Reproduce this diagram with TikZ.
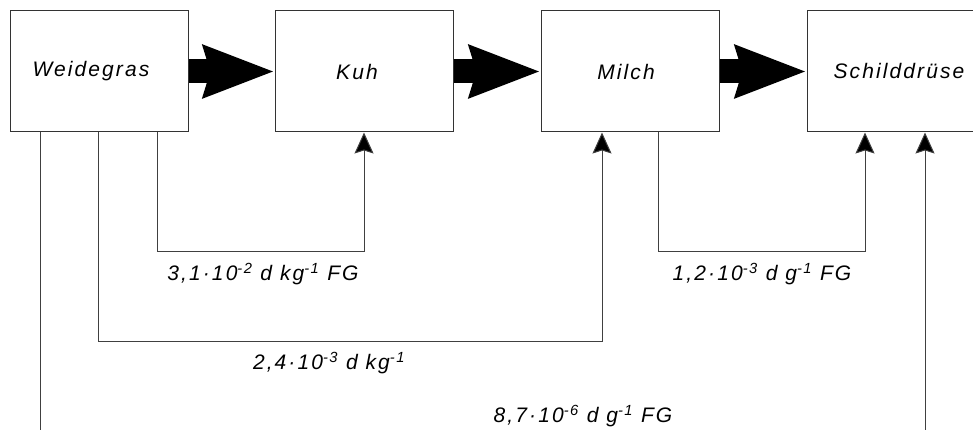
\documentclass[tikz,border=0pt]{standalone}
\usepackage{fontspec}
\setmainfont{Liberation Sans}[LetterSpace=10]
\usetikzlibrary{arrows.meta}
\begin{document}
\begin{tikzpicture}[x=1pt,y=-1pt,
  every node/.style={font=\fontsize{21}{25}\selectfont\itshape},
  box/.style={draw=black!80, line width=1pt, minimum width=178pt,
    minimum height=121pt, inner sep=0pt},
  flow/.style={line width=24pt, black,
    -{Stealth[length=70pt,width=50pt,inset=6pt]}},
  conn/.style={draw=black!75, line width=1pt},
  feed/.style={conn, -{Stealth[length=21pt,width=19pt,inset=3pt,fill=black]}},
  lbl/.style={inner sep=0pt}]
\useasboundingbox (0,0) rectangle (973,430);

% compartments
\node[box] (w) at (99,71.5)  {\hspace*{-16pt}Weidegras};
\node[box] (k) at (364,71.5) {\hspace*{-14pt}Kuh};
\node[box] (m) at (630,71.5) {\hspace*{-8pt}Milch};
\node[box] (s) at (896,71.5) {Schilddrüse\hspace*{-6pt}};

% main transfer chain
\draw[flow] (w.east) -- (k.west);
\draw[flow] (k.east) -- (m.west);
\draw[flow] (m.east) -- (s.west);

% transfer factors
\coordinate (wk) at (157,251);
\coordinate (wm) at (98,341);
\coordinate (ms) at (658,251);
\coordinate (wb) at (40,430);
\coordinate (sb) at (925,430);

\draw[feed] ([xshift=58pt]w.south) |- (wk) -| (k.south);
\draw[feed] ([xshift=-1pt]w.south) |- (wm) -| ([xshift=-28pt]m.south);
\draw[feed] ([xshift=28pt]m.south) |- (ms) -| ([xshift=-31pt]s.south);
\draw[conn] ([xshift=-59pt]w.south) -- (wb);
\draw[feed] (sb) -- ([xshift=29pt]s.south);

\node[lbl] (t1) at (263,274) {3,1·10\textsuperscript{-2} d kg\textsuperscript{-1} FG};
\node[lbl] (t2) at (329,363) {2,4·10\textsuperscript{-3} d kg\textsuperscript{-1}};
\node[lbl] (t3) at (762,274) {1,2·10\textsuperscript{-3} d g\textsuperscript{-1} FG};
\node[lbl] (t4) at (583,416) {8,7·10\textsuperscript{-6} d g\textsuperscript{-1} FG};
\end{tikzpicture}
\end{document}
